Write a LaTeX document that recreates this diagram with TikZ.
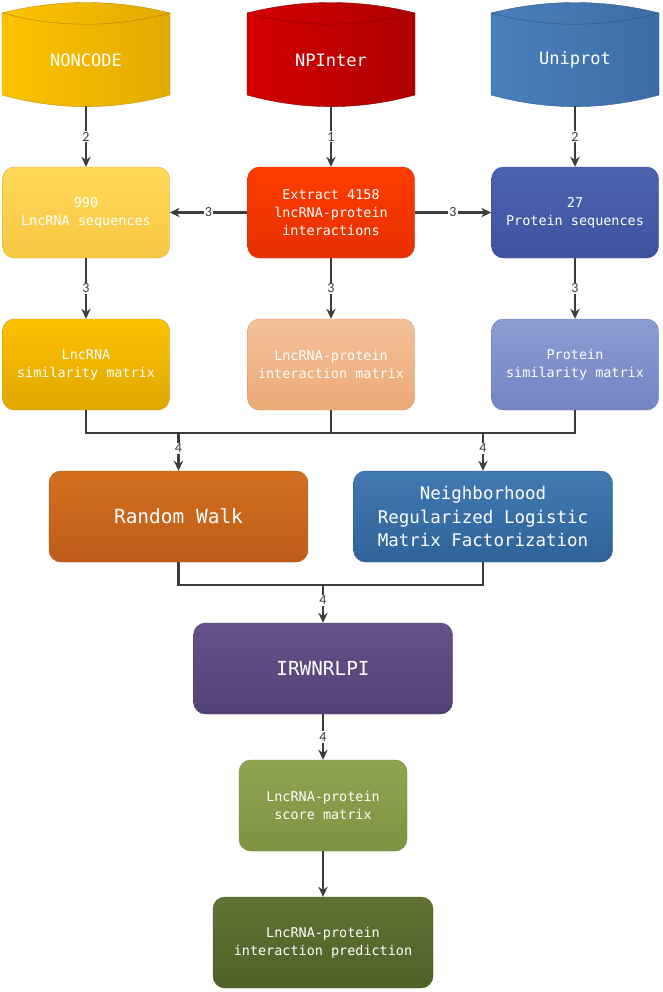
\documentclass[tikz,border=0pt]{standalone}
\usepackage{fontspec}
\setmonofont{DejaVu Sans Mono}
\newfontfamily\numfont{Carlito}
\usetikzlibrary{arrows.meta,positioning,calc}

\definecolor{lineclr}{HTML}{3C3C3C}
\definecolor{ncL}{HTML}{FDC300}\definecolor{ncR}{HTML}{E2AA00}
\definecolor{npL}{HTML}{D40000}\definecolor{npR}{HTML}{AE0000}
\definecolor{upL}{HTML}{4A80BD}\definecolor{upR}{HTML}{3D6CA5}
\definecolor{seqT}{HTML}{FFD85A}\definecolor{seqB}{HTML}{F8C842}
\definecolor{extT}{HTML}{FF3C00}\definecolor{extB}{HTML}{E63000}
\definecolor{proT}{HTML}{4C63B0}\definecolor{proB}{HTML}{3E52A0}
\definecolor{lsimT}{HTML}{FDC100}\definecolor{lsimB}{HTML}{E0A700}
\definecolor{imatT}{HTML}{F3C19B}\definecolor{imatB}{HTML}{EDA876}
\definecolor{psimT}{HTML}{8C9DD2}\definecolor{psimB}{HTML}{7483C3}
\definecolor{rwT}{HTML}{D46F1F}\definecolor{rwB}{HTML}{BD5D1A}
\definecolor{nrT}{HTML}{4179B2}\definecolor{nrB}{HTML}{2F6399}
\definecolor{irwT}{HTML}{665089}\definecolor{irwB}{HTML}{544276}
\definecolor{scT}{HTML}{8FA550}\definecolor{scB}{HTML}{7D9342}
\definecolor{prT}{HTML}{5F7434}\definecolor{prB}{HTML}{4E6128}

% database cylinder: #1 centre x, #2 left colour, #3 right colour
\newcommand{\dbcyl}[3]{%
  \shade[left color=#2,right color=#3,draw=#3!85!black,line width=0.3pt]
    ({#1-84},13) .. controls ({#1-28},-1) and ({#1+28},-1) .. ({#1+84},13)
    -- ({#1+84},95) .. controls ({#1+28},110.5) and ({#1-28},110.5) .. ({#1-84},95)
    -- cycle;
  \draw[#3!75!black,line width=0.3pt]
    ({#1-84},13) .. controls ({#1-28},28) and ({#1+28},28) .. ({#1+84},13);
}

\begin{document}
\begin{tikzpicture}[
  x=0.75pt, y=-0.75pt,
  >={Stealth[length=7.5pt,width=7pt]},
  dbtext/.style={rectangle,inner sep=0pt,minimum width=126pt,minimum height=69pt,
    text=white,font=\ttfamily\fontsize{12.8}{15}\selectfont},
  box/.style 2 args={rectangle,rounded corners=9pt,top color=#1,bottom color=#2,
    draw=#2!88!black,line width=0.3pt,text=white,align=center,inner sep=0pt,
    minimum width=125.25pt,minimum height=68.25pt,
    font=\ttfamily\fontsize{10.1}{13.5}\selectfont},
  bigbox/.style 2 args={box={#1}{#2},minimum width=194.25pt,
    font=\ttfamily\fontsize{13.1}{17.5}\selectfont},
  num/.style={fill=white,inner sep=0.8pt,text=lineclr,
    font=\numfont\fontsize{10.5}{11}\selectfont},
  line/.style={draw=lineclr,line width=1.7pt},
  arr/.style={line,->}
]
  \useasboundingbox (0,0) rectangle (662,992);

  % sources
  \dbcyl{86}{ncL}{ncR}
  \dbcyl{331}{npL}{npR}
  \dbcyl{575}{upL}{upR}
  \node[dbtext] (noncode) at (86,60) {NONCODE};
  \node[dbtext] (npinter) at (331,60) {NPInter};
  \node[dbtext] (uniprot) at (575,60) {Uniprot};

  \node[box={seqT}{seqB}] (lncseq) at (86,212.5) {990\\LncRNA sequences};
  \node[box={extT}{extB}] (extract) at (331,212.5)
    {Extract 4158\\lncRNA-protein\\interactions};
  \node[box={proT}{proB}] (proseq) at (575,212.5) {27\\Protein sequences};

  \draw[arr] (noncode) -- node[num]{2} (lncseq);
  \draw[arr] (npinter) -- node[num]{1} (extract);
  \draw[arr] (uniprot) -- node[num]{2} (proseq);
  \draw[arr] (extract) -- node[num]{3} (lncseq);
  \draw[arr] (extract) -- node[num]{3} (proseq);

  \node[box={lsimT}{lsimB}] (lncsim) at (86,364.5) {LncRNA\\similarity matrix};
  \node[box={imatT}{imatB}] (intmat) at (331,364.5)
    {LncRNA-protein\\interaction matrix};
  \node[box={psimT}{psimB}] (prosim) at (575,364.5) {Protein\\similarity matrix};

  \draw[arr] (lncseq) -- node[num]{3} (lncsim);
  \draw[arr] (extract) -- node[num]{3} (intmat);
  \draw[arr] (proseq) -- node[num]{3} (prosim);

  % two methods
  \node[bigbox={rwT}{rwB},font=\ttfamily\fontsize{14.6}{17.5}\selectfont]
    (rw) at (178.5,516.5) {Random Walk};
  \node[bigbox={nrT}{nrB}] (nrlmf) at (483,516.5)
    {Neighborhood\\Regularized Logistic\\Matrix Factorization};

  \coordinate (bus1) at (331,433);
  \draw[line] (lncsim.south) |- (bus1) -| (prosim.south);
  \draw[line] (intmat.south) -- (bus1);
  \draw[arr] (rw.north |- bus1) -- node[num,pos=0.4]{4} (rw.north);
  \draw[arr] (nrlmf.north |- bus1) -- node[num,pos=0.4]{4} (nrlmf.north);

  \node[bigbox={irwT}{irwB},font=\ttfamily\fontsize{14.5}{17.5}\selectfont]
    (irw) at (323,668.5) {IRWNRLPI};

  \coordinate (bus2) at (323,585);
  \draw[line] (rw.south) |- (bus2) -| (nrlmf.south);
  \draw[arr] (bus2) -- node[num,pos=0.4]{4} (irw.north);

  % output
  \node[box={scT}{scB},minimum width=126pt] (score) at (323,805.5)
    {LncRNA-protein\\score matrix};
  \node[box={prT}{prB},minimum width=165pt] (pred) at (323,942.5)
    {LncRNA-protein\\interaction prediction};

  \draw[arr] (irw) -- node[num]{4} (score);
  \draw[arr] (score) -- (pred);
\end{tikzpicture}
\end{document}
